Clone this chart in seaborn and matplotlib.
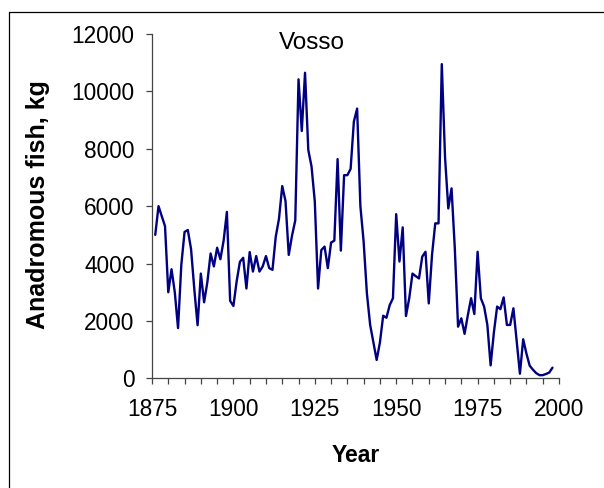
import matplotlib
matplotlib.use("Agg")
import matplotlib.pyplot as plt
from matplotlib.lines import Line2D
from matplotlib.ticker import MultipleLocator
import seaborn as sns
import pandas as pd

years = list(range(1876, 1999))
catch_kg = [
    5000, 6000, 5650, 5300, 3000, 3800, 3000, 1750, 3950, 5100,   # 1876-1885
    5170, 4500, 3100, 1850, 3650, 2650, 3350, 4350, 3900, 4550,   # 1886-1895
    4150, 4800, 5800, 2700, 2520, 3380, 4060, 4200, 3130, 4400,   # 1896-1905
    3720, 4260, 3720, 3900, 4260, 3840, 3780, 4930, 5560, 6700,   # 1906-1915
    6180, 4300, 4970, 5500, 10420, 8620, 10650, 7960, 7380, 6160, # 1916-1925
    3130, 4470, 4590, 3840, 4730, 4800, 7640, 4450, 7080, 7080,   # 1926-1935
    7300, 8950, 9400, 6000, 4760, 2960, 1860, 1250, 640, 1250,    # 1936-1945
    2180, 2110, 2550, 2790, 5720, 4070, 5260, 2170, 2790, 3650,   # 1946-1955
    3560, 3480, 4240, 4410, 2610, 4300, 5400, 5400, 10950, 7700,  # 1956-1965
    5920, 6620, 4530, 1800, 2090, 1550, 2200, 2790, 2240, 4410,   # 1966-1975
    2790, 2500, 1860, 450, 1600, 2500, 2410, 2820, 1860, 1860,    # 1976-1985
    2440, 1300, 160, 1360, 860, 440, 300, 180, 110, 110,          # 1986-1995
    150, 200, 370,                                                # 1996-1998
]
x_ticks = [1875, 1900, 1925, 1950, 1975, 2000]
y_ticks = [0, 2000, 4000, 6000, 8000, 10000, 12000]
title = "Vosso"
x_label = "Year"
y_label = "Anadromous fish, kg"

df = pd.DataFrame({"Year": years, "kg": catch_kg})

sns.set_theme(style="white")
plt.rcParams["font.family"] = ["Liberation Sans", "DejaVu Sans"]

fig = plt.figure(figsize=(6.04, 4.88), dpi=100)
ax = fig.add_axes([152 / 604, 1 - 378.3 / 488, 407 / 604, 344.3 / 488])

sns.lineplot(data=df, x="Year", y="kg", ax=ax, color="#000080", linewidth=1.7)

ax.set_xlim(1875, 2000)
ax.set_ylim(0, 12000)
ax.set_xticks(x_ticks)
ax.set_xticklabels([str(t) for t in x_ticks])
ax.set_yticks(y_ticks)
ax.set_yticklabels([str(t) for t in y_ticks])
ax.xaxis.set_minor_locator(MultipleLocator(5))
ax.set_xlabel("")
ax.set_ylabel("")

for s in ["top", "right"]:
    ax.spines[s].set_visible(False)
for s in ["left", "bottom"]:
    ax.spines[s].set_color("#444444")
    ax.spines[s].set_linewidth(0.9)

ax.tick_params(axis="both", which="both", direction="out", color="#444444",
               width=0.9, length=4.5, labelsize=16.3, labelcolor="black")
ax.tick_params(axis="x", which="both", bottom=True, pad=10)
ax.tick_params(axis="y", which="major", left=True, pad=8)

ax.text(0.393, 0.974, title, transform=ax.transAxes, ha="center", va="center",
        fontsize=17.5, color="black")

fig.text(356 / 604, 1 - 456 / 488, x_label, ha="center", va="center",
         fontsize=16.5, fontweight="bold", color="black")
fig.text(38 / 604, 1 - 205 / 488, y_label, ha="center", va="center",
         rotation=90, fontsize=18, fontweight="bold", color="black")

# outer frame (left and top edges visible)
fig.add_artist(Line2D([9 / 604, 9 / 604], [0, 1 - 12 / 488],
                      transform=fig.transFigure, color="black", linewidth=0.9))
fig.add_artist(Line2D([9 / 604, 1], [1 - 12 / 488, 1 - 12 / 488],
                      transform=fig.transFigure, color="black", linewidth=0.9))

fig.savefig("out.png", dpi=100)
